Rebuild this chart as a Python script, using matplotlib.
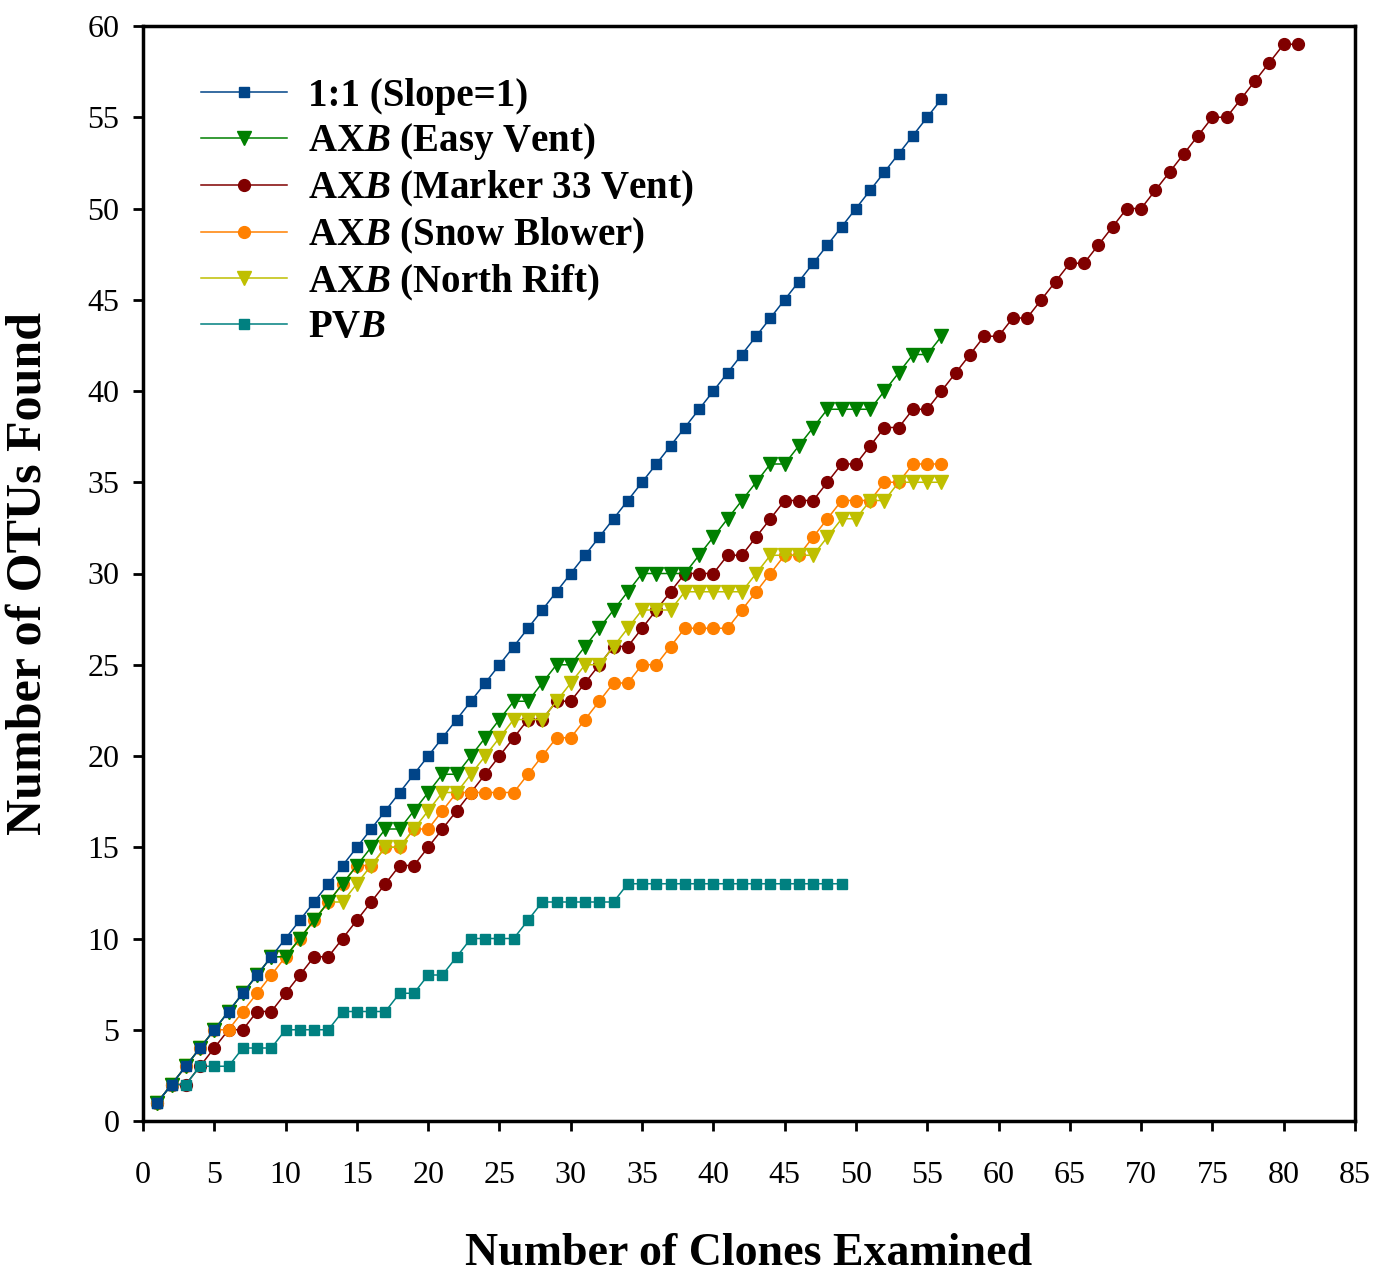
import matplotlib
matplotlib.use("Agg")
import matplotlib.pyplot as plt

plt.rcParams['font.family'] = ['Liberation Serif', 'DejaVu Serif']
plt.rcParams['mathtext.fontset'] = 'custom'
plt.rcParams['mathtext.rm'] = 'Liberation Serif:bold'
plt.rcParams['mathtext.it'] = 'Liberation Serif:italic:bold'
plt.rcParams['mathtext.bf'] = 'Liberation Serif:bold'

# data
x_one = list(range(1, 57))
y_one = list(range(1, 57))

x_easy = list(range(1, 57))
y_easy = [1, 2, 3, 4, 5, 6, 7, 8, 9, 9, 10, 11, 12, 13, 14, 15, 16, 16, 17, 18,
          19, 19, 20, 21, 22, 23, 23, 24, 25, 25, 26, 27, 28, 29, 30, 30, 30, 30, 31, 32,
          33, 34, 35, 36, 36, 37, 38, 39, 39, 39, 39, 40, 41, 42, 42, 43]

x_m33 = list(range(1, 82))
y_m33 = [1, 2, 2, 3, 4, 5, 5, 6, 6, 7, 8, 9, 9, 10, 11, 12, 13, 14, 14, 15,
         16, 17, 18, 19, 20, 21, 22, 22, 23, 23, 24, 25, 26, 26, 27, 28, 29, 30, 30, 30,
         31, 31, 32, 33, 34, 34, 34, 35, 36, 36, 37, 38, 38, 39, 39, 40, 41, 42, 43, 43,
         44, 44, 45, 46, 47, 47, 48, 49, 50, 50, 51, 52, 53, 54, 55, 55, 56, 57, 58, 59,
         59]

x_snow = list(range(1, 57))
y_snow = [1, 2, 3, 4, 5, 5, 6, 7, 8, 9, 10, 11, 12, 13, 14, 14, 15, 15, 16, 16,
          17, 18, 18, 18, 18, 18, 19, 20, 21, 21, 22, 23, 24, 24, 25, 25, 26, 27, 27, 27,
          27, 28, 29, 30, 31, 31, 32, 33, 34, 34, 34, 35, 35, 36, 36, 36]

x_north = list(range(1, 57))
y_north = [1, 2, 3, 4, 5, 6, 7, 8, 9, 9, 10, 11, 12, 12, 13, 14, 15, 15, 16, 17,
           18, 18, 19, 20, 21, 22, 22, 22, 23, 24, 25, 25, 26, 27, 28, 28, 28, 29, 29, 29,
           29, 29, 30, 31, 31, 31, 31, 32, 33, 33, 34, 34, 35, 35, 35, 35]

x_pvb = list(range(1, 50))
y_pvb = [1, 2, 2, 3, 3, 3, 4, 4, 4, 5, 5, 5, 5, 6, 6, 6, 6, 7, 7, 8,
         8, 9, 10, 10, 10, 10, 11, 12, 12, 12, 12, 12, 12, 13, 13, 13, 13, 13, 13, 13,
         13, 13, 13, 13, 13, 13, 13, 13, 13]

labels = ["1:1 (Slope=1)", r"AX$\mathit{B}$ (Easy Vent)", r"AX$\mathit{B}$ (Marker 33 Vent)",
          r"AX$\mathit{B}$ (Snow Blower)", r"AX$\mathit{B}$ (North Rift)", r"PV$\mathit{B}$"]

fig = plt.figure(figsize=(13.73, 12.81), dpi=100)
ax = fig.add_axes([143/1373, 1 - 1121/1281, 1212/1373, 1095/1281])

lw = 1.1
h_one, = ax.plot(x_one, y_one, color="#004488", marker="s", ms=7.5, lw=lw, zorder=8)
h_easy, = ax.plot(x_easy, y_easy, color="#008000", marker="v", ms=9.5, lw=lw, zorder=6)
h_m33, = ax.plot(x_m33, y_m33, color="#800000", marker="o", ms=8.5, lw=lw, zorder=3)
h_snow, = ax.plot(x_snow, y_snow, color="#FF8000", marker="o", ms=8.5, lw=lw, zorder=4)
h_north, = ax.plot(x_north, y_north, color="#BFBF00", marker="v", ms=9.5, lw=lw, zorder=5)
h_pvb, = ax.plot(x_pvb, y_pvb, color="#008080", marker="s", ms=7.5, lw=lw, zorder=7)

ax.set_xlim(0, 85)
ax.set_ylim(0, 60)
ax.set_xticks(range(0, 86, 5))
ax.set_yticks(range(0, 61, 5))
ax.tick_params(axis='x', direction='out', length=7, width=2, labelsize=23, pad=22)
ax.tick_params(axis='y', direction='out', length=7, width=2, labelsize=23, pad=10)
for s in ax.spines.values():
    s.set_linewidth(2.5)

ax.set_xlabel("Number of Clones Examined", fontsize=33, fontweight='bold', labelpad=31)
ax.set_ylabel("Number of OTUs Found", fontsize=36, fontweight='bold', labelpad=26)

leg = ax.legend([h_one, h_easy, h_m33, h_snow, h_north, h_pvb], labels,
                loc='upper left', bbox_to_anchor=(0.035, 0.967), frameon=False,
                prop={'size': 28, 'weight': 'bold'}, handlelength=2.2,
                handletextpad=0.55, labelspacing=0.17, borderaxespad=0)

fig.savefig("out.png", dpi=100)
